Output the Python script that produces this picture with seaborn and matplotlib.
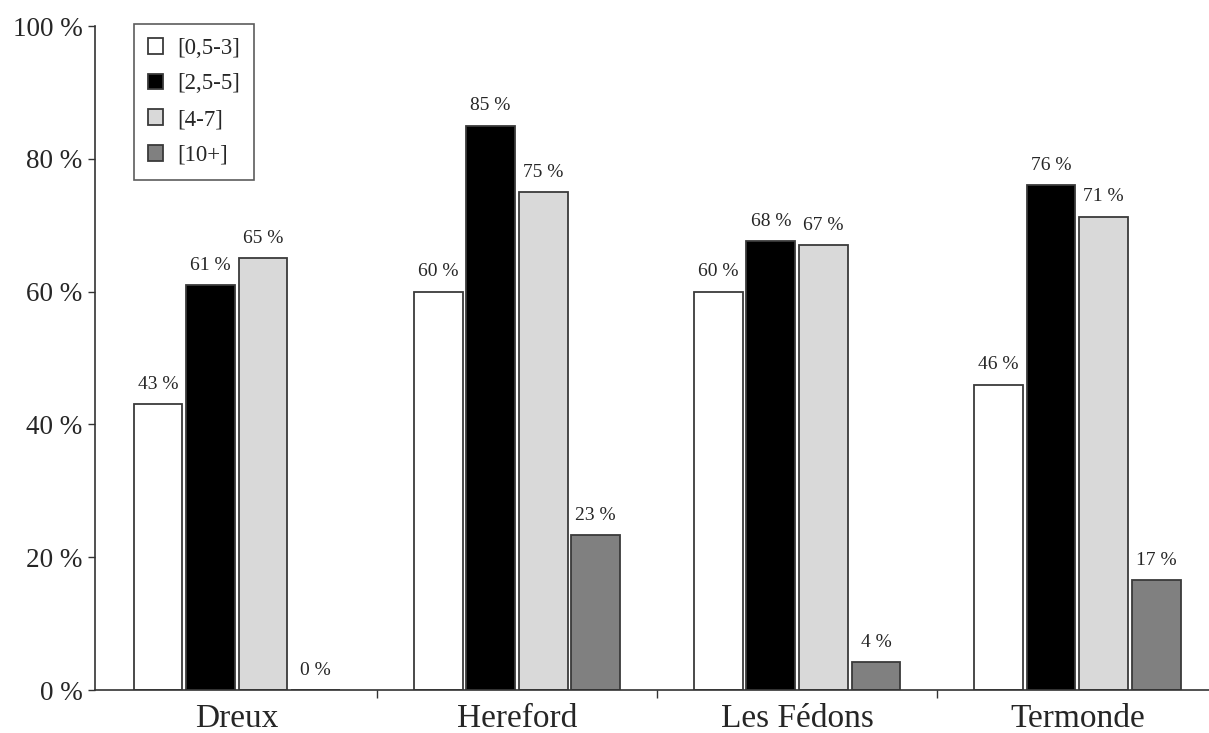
import matplotlib
matplotlib.use("Agg")
import matplotlib.pyplot as plt
import seaborn as sns
import pandas as pd
from matplotlib.ticker import FixedLocator, FuncFormatter

sites = ["Dreux", "Hereford", "Les Fédons", "Termonde"]
classes = ["[0,5-3]", "[2,5-5]", "[4-7]", "[10+]"]
v_0_5_3 = [43, 60, 60, 46]
v_2_5_5 = [61, 85, 67.6, 76]
v_4_7 = [65, 75, 67, 71.3]
v_10p = [0, 23.3, 4.2, 16.6]
colors = ["#FFFFFF", "#000000", "#D9D9D9", "#808080"]

rows = []
for cls, vals in zip(classes, [v_0_5_3, v_2_5_5, v_4_7, v_10p]):
    for s, v in zip(sites, vals):
        rows.append({"site": s, "classe": cls, "val": v})
df = pd.DataFrame(rows)

sns.set_theme(style="white")
plt.rcParams["font.family"] = ["Liberation Serif", "DejaVu Serif"]

fig = plt.figure(figsize=(12.09, 7.33), dpi=100)
ax = fig.add_axes([95/1209, 1 - 690/733, 1 - 95/1209, (690 - 26)/733])

sns.barplot(data=df, x="site", y="val", hue="classe", order=sites,
            hue_order=classes, palette=colors, width=0.75, gap=0.07,
            edgecolor="#3a3a3a", linewidth=1.3, ax=ax, legend=True)

for cont in ax.containers:
    ax.bar_label(cont, labels=[f"{round(b.get_height())} %" for b in cont],
                 padding=8, fontsize=14)

ax.set_ylim(0, 100)
ax.set_xlim(-0.506, 3.47)
ax.set_yticks([0, 20, 40, 60, 80, 100])
ax.yaxis.set_major_formatter(FuncFormatter(lambda v, p: f"{int(v)} %"))
ax.tick_params(axis="y", labelsize=19.5, direction="out", length=5, width=1,
               color="#333333", left=True, pad=4)
ax.tick_params(axis="x", which="major", length=0, labelsize=24, pad=10)
ax.xaxis.set_minor_locator(FixedLocator([0.5, 1.5, 2.5]))
ax.tick_params(axis="x", which="minor", bottom=True, direction="out",
               length=6, width=1, color="#333333")
ax.set_xlabel("")
ax.set_ylabel("")
for sp in ["top", "right"]:
    ax.spines[sp].set_visible(False)
for sp in ["left", "bottom"]:
    ax.spines[sp].set_color("#333333")
    ax.spines[sp].set_linewidth(1.2)

leg = ax.legend(loc="upper left", bbox_to_anchor=(0.035, 1.003),
                borderaxespad=0, fontsize=16.5, frameon=True, fancybox=False,
                handlelength=0.68, handleheight=0.68, handletextpad=0.6,
                labelspacing=0.64, borderpad=0.6, edgecolor="#333333")
leg.get_frame().set_linewidth(1.2)

fig.savefig("out.png", dpi=100, facecolor="white")
